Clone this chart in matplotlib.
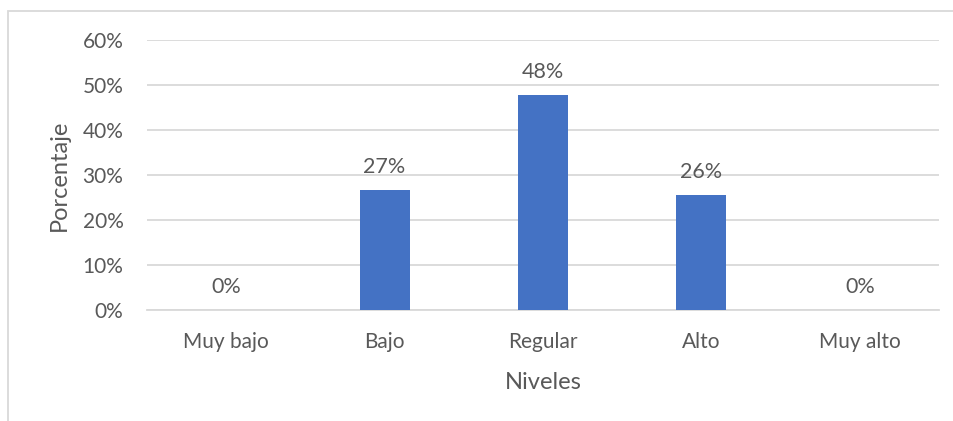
import matplotlib.pyplot as plt
import matplotlib.patches as patches
from matplotlib.ticker import FuncFormatter

# --- data ---
niveles = ['Muy bajo', 'Bajo', 'Regular', 'Alto', 'Muy alto']
porcentajes = [0.0, 26.7, 47.8, 25.6, 0.0]
etiquetas = ['0%', '27%', '48%', '26%', '0%']
y_ticks = [0, 10, 20, 30, 40, 50, 60]

plt.rcParams['font.family'] = ['Lato', 'DejaVu Sans']
text_color = '#595959'
grid_color = '#D9D9D9'

fig = plt.figure(figsize=(9.54, 4.21), dpi=100)
ax = fig.add_axes([147 / 954, 1 - 310 / 421, (939 - 147) / 954, 270 / 421])

x = list(range(len(niveles)))
ax.bar(x, porcentajes, width=0.315, color='#4472C4', zorder=3)

for xi, v, lab in zip(x, porcentajes, etiquetas):
    ax.annotate(lab, (xi, v), xytext=(0, 16.5), textcoords='offset points',
                ha='center', va='center', fontsize=15.5, color=text_color)

ax.set_xlim(-0.5, len(niveles) - 0.5)
ax.set_ylim(0, 60)
ax.set_yticks(y_ticks)
ax.yaxis.set_major_formatter(FuncFormatter(lambda v, p: f'{v:.0f}%'))
ax.set_xticks(x)
ax.set_xticklabels(niveles)

ax.grid(axis='y', color=grid_color, linewidth=1.3, zorder=0)
ax.set_axisbelow(True)
for s in ['top', 'right', 'left']:
    ax.spines[s].set_visible(False)
ax.spines['bottom'].set_color(grid_color)
ax.spines['bottom'].set_linewidth(1.3)
ax.tick_params(axis='both', length=0, labelsize=15, colors=text_color)
ax.tick_params(axis='y', pad=17)
ax.tick_params(axis='x', pad=16)

ax.set_xlabel('Niveles', fontsize=17, color=text_color, labelpad=14)
ax.set_ylabel('Porcentaje', fontsize=17, color=text_color, labelpad=9)

# chart border (partially cropped)
border = patches.Rectangle((8 / 954, -0.2), 2, 0.2 + 1 - 11 / 421,
                           transform=fig.transFigure, fill=False,
                           edgecolor='#D9D9D9', linewidth=1.3)
fig.patches.append(border)

fig.savefig('out.png', dpi=100, facecolor='white')
